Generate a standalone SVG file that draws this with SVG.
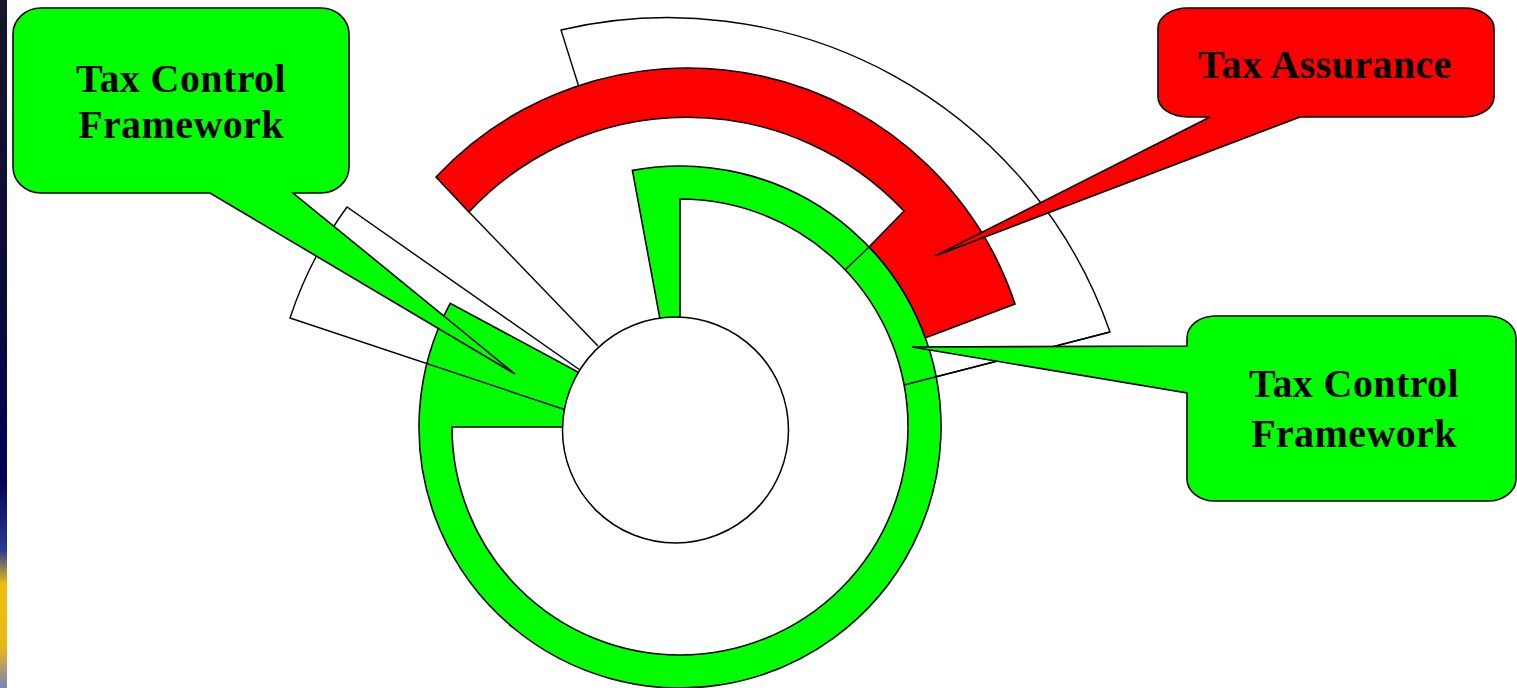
<svg xmlns="http://www.w3.org/2000/svg" width="1517" height="688" viewBox="0 0 1517 688">
  <defs>
    <linearGradient id="edge" x1="0" y1="0" x2="0" y2="1">
      <stop offset="0" stop-color="#16162c"/>
      <stop offset="0.45" stop-color="#0a0a3a"/>
      <stop offset="0.7" stop-color="#000058"/>
      <stop offset="0.8" stop-color="#2c3a92"/>
      <stop offset="0.85" stop-color="#f0c010"/>
      <stop offset="0.94" stop-color="#e8b818"/>
      <stop offset="1" stop-color="#8080c0"/>
    </linearGradient>
    <style>
      .ol { stroke: #000; stroke-width: 1.6; stroke-linejoin: miter; }
      .line { fill: none; stroke: #000; stroke-width: 1.4; }
      .green { fill: #00ff00; }
      .red { fill: #ff0000; }
      .lbl { font-family: "Liberation Serif", "Times New Roman", serif; font-weight: bold; font-size: 40px; letter-spacing: 0.4px; fill: #000; text-anchor: middle; }
    </style>
  </defs>

  <rect x="0" y="0" width="1517" height="688" fill="#ffffff"/>
  <rect x="0" y="0" width="7" height="688" fill="url(#edge)"/>

  <!-- outer white sector -->
  <g id="sector-outer">
    <path class="line" d="M 583 100 L 561 30 A 468 468 0 0 1 1110 332 L 904 385"/>
  </g>

  <!-- thin radial line under red band -->
  <g id="sector-under-red">
    <line class="line" x1="469" y1="212" x2="598" y2="346"/>
  </g>

  <!-- red band -->
  <g id="band-tax-assurance">
    <path class="red ol" d="M 436 177 A 345 345 0 0 1 1015 304 L 925 338 A 261 261 0 0 0 869 247 L 904 211 A 298 298 0 0 0 469 212 Z"/>
  </g>

  <!-- green ring with spokes -->
  <g id="ring-tax-control">
    <path class="green ol" fill-rule="evenodd" d="M 680 427 L 632.4 170.4 A 261 261 0 1 1 450.2 303.3 Z M 680 427 L 680 199 A 228 228 0 1 1 452 427 Z"/>
  </g>

  <!-- dividing lines and sector outlines drawn on top -->
  <g id="connectors">
    <line class="line" x1="845" y1="270" x2="869" y2="247"/>
    <line class="line" x1="1110" y1="332" x2="904" y2="385"/>
    <path class="line" d="M 590 377 L 347 207 A 402 402 0 0 0 290 318 L 575 413"/>
  </g>

  <!-- inner circle -->
  <g id="core">
    <circle cx="675.5" cy="430" r="113" fill="#ffffff" stroke="#000" stroke-width="1.5"/>
  </g>

  <!-- callouts -->
  <g id="callout-tcf-left">
    <path class="green ol" d="M 41 8 H 321 A 28 26 0 0 1 349 34 V 167 A 28 26 0 0 1 321 193 H 293 L 515 374 L 210 193 H 41 A 28 26 0 0 1 13 167 V 34 A 28 26 0 0 1 41 8 Z"/>
    <text class="lbl" x="181" y="92">Tax Control</text>
    <text class="lbl" x="181" y="138">Framework</text>
  </g>

  <g id="callout-ta">
    <path class="red ol" d="M 1188 8 H 1464 A 30 20 0 0 1 1494 28 V 97 A 30 20 0 0 1 1464 117 H 1300 L 935 256 L 1210 117 H 1188 A 30 20 0 0 1 1158 97 V 28 A 30 20 0 0 1 1188 8 Z"/>
    <text class="lbl" x="1325" y="78">Tax Assurance</text>
  </g>

  <g id="callout-tcf-right">
    <path class="green ol" d="M 1215 316 H 1488 A 28 22 0 0 1 1516 338 V 479 A 28 22 0 0 1 1488 501 H 1215 A 28 22 0 0 1 1187 479 V 393 L 912 347 L 1187 346 V 338 A 28 22 0 0 1 1215 316 Z"/>
    <text class="lbl" x="1354" y="397">Tax Control</text>
    <text class="lbl" x="1354" y="447">Framework</text>
  </g>
</svg>
